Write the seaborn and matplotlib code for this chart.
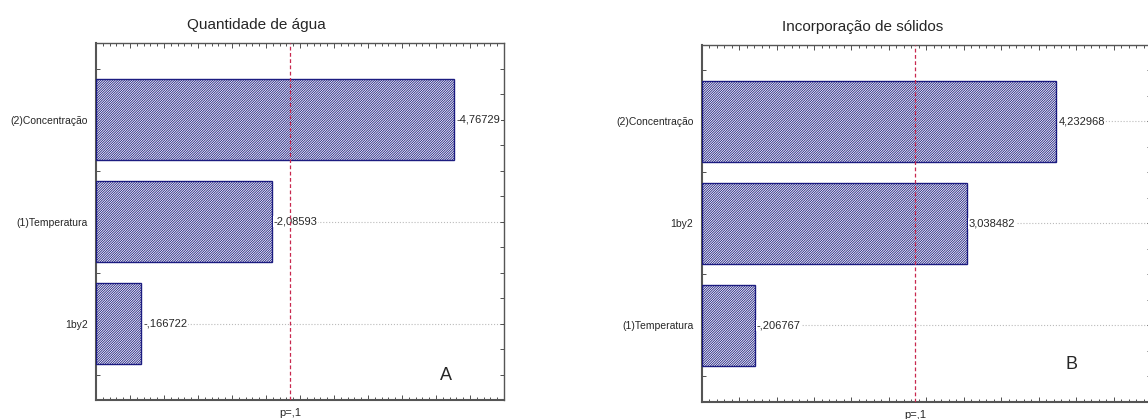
import matplotlib
matplotlib.use("Agg")
import matplotlib.pyplot as plt
import matplotlib.transforms as mtransforms
from matplotlib.ticker import MultipleLocator
import seaborn as sns
import pandas as pd

# efeitos padronizados (valor absoluto) - painel A
termos_a = ['(2)Concentração', '(1)Temperatura', '1by2']
valores_a = [4.76729, 2.08593, 0.166722]
rotulos_a = ['-4,76729', '-2,08593', '-,166722']

# painel B
termos_b = ['(2)Concentração', '1by2', '(1)Temperatura']
valores_b = [4.232968, 3.038482, 0.206767]
rotulos_b = ['4,232968', '3,038482', '-,206767']

p_crit = 2.353363  # t(0.05; 3 gl), linha p=,1
x_min, x_max = -0.5, 5.5

sns.set_style("white")
plt.rcParams['font.family'] = ['Liberation Sans', 'DejaVu Sans']
plt.rcParams['hatch.linewidth'] = 0.6
plt.rcParams['hatch.color'] = '#262680'

fig = plt.figure(figsize=(11.48, 4.19), dpi=100)
ax1 = fig.add_axes([0.0836, 0.0453, 0.3554, 0.852])
ax2 = fig.add_axes([0.6112, 0.0406, 0.3915, 0.852])


def pareto(ax, termos, valores, rotulos, letra, lx, ly):
    df = pd.DataFrame({'termo': termos, 'efeito': valores})
    sns.barplot(data=df, x='efeito', y='termo', orient='h', ax=ax,
                width=0.8, color='white', edgecolor='#1c1c80',
                linewidth=1.0, zorder=3)
    # estilo STATISTICA: barras partem da borda esquerda do eixo
    for p, v in zip(ax.patches, valores):
        p.set_x(x_min)
        p.set_width(v - x_min)
        p.set_hatch('/' * 14)
        p.set_facecolor('white')
        p.set_edgecolor('#1c1c80')

    for i, (v, r) in enumerate(zip(valores, rotulos)):
        ax.annotate(r, xy=(v, i), xytext=(1.5, 0), textcoords='offset points',
                    ha='left', va='center', fontsize=8, zorder=4,
                    bbox=dict(facecolor='white', edgecolor='none', pad=0.5))

    ax.axvline(p_crit, color='#c8284f', ls=(0, (3, 2)), lw=0.9, zorder=5)
    trans = mtransforms.blended_transform_factory(ax.transData, ax.transAxes)
    ax.text(p_crit, -0.036, 'p=,1', transform=trans, ha='center',
            va='center', fontsize=8)

    ax.set_xlim(x_min, x_max)
    ax.set_ylim(2.75, -0.75)
    ax.xaxis.set_major_locator(MultipleLocator(0.5))
    ax.xaxis.set_minor_locator(MultipleLocator(0.1))
    ax.yaxis.set_minor_locator(MultipleLocator(0.25))
    ax.set_xticklabels([])
    ax.tick_params(axis='x', which='both', direction='in', top=True,
                   bottom=True, labelbottom=False, color='#333333')
    ax.tick_params(axis='x', which='major', length=3.5, width=0.6)
    ax.tick_params(axis='x', which='minor', length=2, width=0.6)
    ax.tick_params(axis='y', which='both', direction='in', left=True,
                   right=True, length=3, width=0.6, color='#333333')
    ax.tick_params(axis='y', which='major', labelsize=7.5, pad=6)
    ax.set_xlabel('')
    ax.set_ylabel('')
    ax.grid(axis='y', which='major', ls=':', color='#bbbbbb', lw=0.8)
    ax.set_axisbelow(True)
    for s in ax.spines.values():
        s.set_color('#555555')
        s.set_linewidth(1.0)
    ax.spines['left'].set_linewidth(1.5)
    ax.spines['bottom'].set_linewidth(1.5)
    ax.text(lx, ly, letra, transform=ax.transAxes, ha='center',
            va='center', fontsize=13)


pareto(ax1, termos_a, valores_a, rotulos_a, 'A', 0.858, 0.07)
pareto(ax2, termos_b, valores_b, rotulos_b, 'B', 0.823, 0.104)

fig.text(0.223, 0.940, 'Quantidade de água', ha='center', va='center',
         fontsize=11)
fig.text(0.751, 0.936, 'Incorporação de sólidos', ha='center',
         va='center', fontsize=11)

fig.savefig('out.png', dpi=100)
